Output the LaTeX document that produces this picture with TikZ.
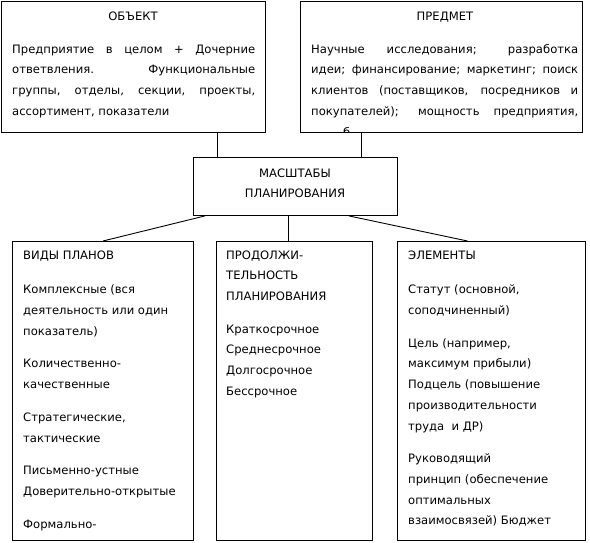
\documentclass[tikz,border=0pt]{standalone}
\usepackage{fontspec}
\setmainfont{DejaVu Sans}

\tikzset{
  box/.style={draw, line width=0.9pt, inner sep=0pt, anchor=north west},
  link/.style={line width=0.9pt},
  txt/.style={inner sep=0pt, font=\fontsize{11.6}{20.7}\selectfont},
  head/.style={txt, anchor=base},
  para/.style={txt, anchor=north west},
}

\begin{document}
\begin{tikzpicture}[x=1pt, y=-1pt]
    \useasboundingbox (0,0) rectangle (590,542);

    % Top boxes
    \node[box, minimum width=264pt, minimum height=131.5pt] (obj) at (1,0.5) {};
    \node[box, minimum width=282pt, minimum height=131.5pt] (subj) at (300,0.5) {};

    % Centre box
    \node[box, minimum width=204pt, minimum height=58pt] (scale) at (193,157) {};

    % Bottom boxes
    \node[box, minimum width=181pt, minimum height=299pt] (kinds) at (12,241) {};
    \node[box, minimum width=156pt, minimum height=299pt] (term) at (216,241) {};
    \node[box, minimum width=188pt, minimum height=299pt] (elem) at (397,241) {};

    % Connectors
    \draw[link] ([xshift=84pt]obj.south) -- ([xshift=84pt]obj.south |- scale.north);
    \draw[link] ([xshift=-80pt]subj.south) -- ([xshift=-80pt]subj.south |- scale.north);
    \draw[link] ([xshift=12pt]scale.south west) -- (kinds.north);
    \draw[link] ([xshift=-7pt]scale.south) -- ([xshift=-7pt]scale.south |- term.north);
    \draw[link] ([xshift=-49pt]scale.south east) -- ([xshift=-24pt]elem.north);

    % Object
    \node[head] (objhead) at (133,20) {ОБЪЕКТ};
    \node[para, text width=243pt, align=justify] (objtext) at (12,38.5)
      {\strut Предприятие в целом + Дочерние\linebreak
       ответвления. Функциональные\linebreak
       группы, отделы, секции, проекты,\linebreak
       ассортимент, показатели};

    % Subject
    \node[head] (subjhead) at (445,20) {ПРЕДМЕТ};
    \node[para, text width=267pt, align=justify] (subjtext) at (311,38.5)
      {\parfillskip=0pt\strut Научные исследования; разработка\linebreak
       идеи; финансирование; маркетинг; поиск\linebreak
       клиентов (поставщиков, посредников и\linebreak
       покупателей); мощность предприятия,\par};
    \begin{scope}
      \clip (subj.north west) rectangle (subj.south east);
      \node[txt, anchor=base west] (subjcut) at (343,136) {б};
    \end{scope}

    % Scale
    \node[txt, align=center, anchor=north] (scaletext) at (295,162.5)
      {\strut МАСШТАБЫ\\ПЛАНИРОВАНИЯ};

    % Kinds of plans
    \node[para, align=left] (kindstext) at (23,244.5)
      {\strut ВИДЫ ПЛАНОВ\\[14pt]
       Комплексные (вся\\деятельность или один\\показатель)\\[12pt]
       Количественно-\\качественные\\[12pt]
       Стратегические,\\тактические\\[12pt]
       Письменно-устные\\Доверительно-открытые\\[12pt]
       Формально-};

    % Duration
    \node[para, align=left] (termtext) at (226,244.5)
      {\strut ПРОДОЛЖИ-\\ТЕЛЬНОСТЬ\\ПЛАНИРОВАНИЯ\\[12pt]
       Краткосрочное\\Среднесрочное\\Долгосрочное\\Бессрочное};

    % Elements
    \node[para, align=left] (elemtext) at (408,244.5)
      {\strut ЭЛЕМЕНТЫ\\[14pt]
       Статут (основной,\\соподчиненный)\\[12pt]
       Цель (например,\\максимум прибыли)\\Подцель (повышение\\производительности\\труда\ \ и ДР)\\[12pt]
       Руководящий\\принцип (обеспечение\\оптимальных\\взаимосвязей) Бюджет};
\end{tikzpicture}
\end{document}
